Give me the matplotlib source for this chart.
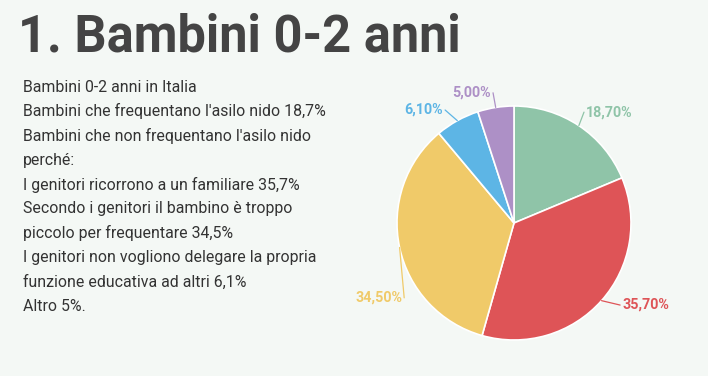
import matplotlib.pyplot as plt
import numpy as np

plt.rcParams['font.family'] = ['Roboto', 'DejaVu Sans']

title = "1. Bambini 0-2 anni"
body_lines = [
    "Bambini 0-2 anni in Italia",
    "Bambini che frequentano l'asilo nido 18,7%",
    "Bambini che non frequentano l'asilo nido",
    "perché:",
    "I genitori ricorrono a un familiare 35,7%",
    "Secondo i genitori il bambino è troppo",
    "piccolo per frequentare 34,5%",
    "I genitori non vogliono delegare la propria",
    "funzione educativa ad altri 6,1%",
    "Altro 5%.",
]

values = [18.7, 35.7, 34.5, 6.1, 5.0]
labels = ["18,70%", "35,70%", "34,50%", "6,10%", "5,00%"]
colors = ["#8fc4a8", "#de5457", "#f0ca69", "#5db5e5", "#ad90c6"]

# label anchor (near edge of text): (angle in degrees, distance as fraction of radius)
label_pos = [(57, 1.13), (-37.2, 1.16), (213.8, 1.15), (122.1, 1.14), (100, 1.13)]

bg = "#f4f8f5"
W, H = 708, 376
fig = plt.figure(figsize=(W / 100, H / 100), dpi=100, facecolor=bg)

fig.text(18 / W, 1 - 37 / H, title, fontsize=36.4, fontweight='bold',
         color='#444444', va='center', ha='left')

for i, line in enumerate(body_lines):
    fig.text(23 / W, 1 - (87 + i * 24.4) / H, line, fontsize=11.4,
             color='#333333', va='center', ha='left')

# pie axes: center at (514, 223) px, 100 px per data unit
ax = fig.add_axes([(514 - 160) / W, (H - 223 - 160) / H, 320 / W, 320 / H])
ax.set_facecolor(bg)

R = 1.17
wedges, _ = ax.pie(values, colors=colors, startangle=90, counterclock=False,
                   radius=R, wedgeprops=dict(edgecolor='white', linewidth=1.2))
ax.set_xlim(-1.6, 1.6)
ax.set_ylim(-1.6, 1.6)
ax.axis('off')

for w, lab, col, (ang, dist) in zip(wedges, labels, colors, label_pos):
    mid = np.deg2rad((w.theta1 + w.theta2) / 2)
    ex, ey = R * np.cos(mid), R * np.sin(mid)
    tx, ty = dist * R * np.cos(np.deg2rad(ang)), dist * R * np.sin(np.deg2rad(ang))
    right = tx > 0
    lx = tx - 0.02 if right else tx + 0.02
    ax.plot([ex, lx], [ey, ty], color=col, lw=0.9, solid_capstyle='round')
    ax.text(tx, ty, lab, color=col, fontsize=10.3, fontweight='bold',
            ha='left' if right else 'right', va='center')

fig.savefig("out.png", dpi=100, facecolor=bg)
